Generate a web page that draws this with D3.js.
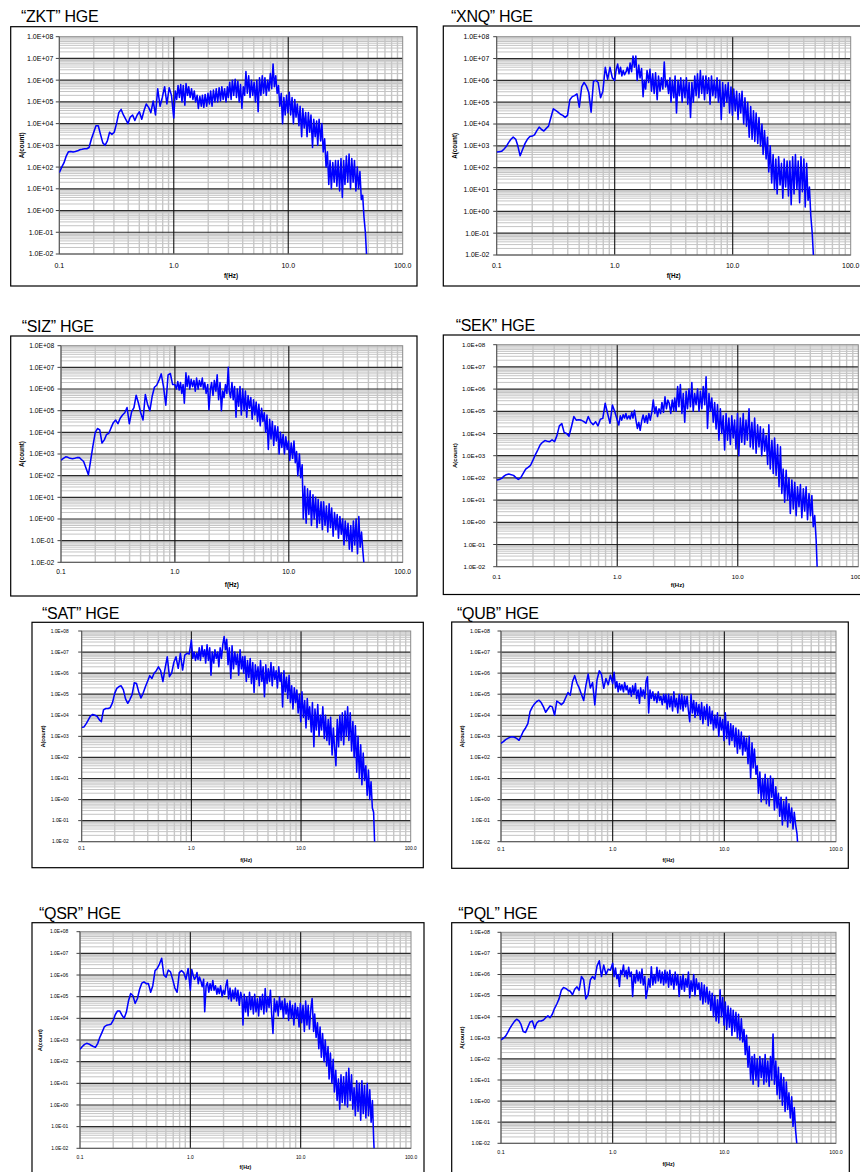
<!DOCTYPE html>
<html><head><meta charset="utf-8">
<script src="https://d3js.org/d3.v7.min.js"></script>
<style>body{margin:0;background:#fff}svg{display:block}</style>
</head><body>
<svg id="chart" width="860" height="1172"></svg>
<script>
const stations = ["ZKT","XNQ","SIZ","SEK","SAT","QUB","QSR","PQL"];
const xTickValues = [0.1, 1, 10, 100];
const xTickLabels = ["0.1","1.0","10.0","100.0"];
const yTickValues = [1e-2,1e-1,1e0,1e1,1e2,1e3,1e4,1e5,1e6,1e7,1e8];
const yTickLabels = ["1.0E-02","1.0E-01","1.0E+00","1.0E+01","1.0E+02","1.0E+03","1.0E+04","1.0E+05","1.0E+06","1.0E+07","1.0E+08"];

// frequency samples (Hz)
const freqLow = [0.1,0.105,0.11,0.115,0.12,0.126,0.132,0.138,0.145,0.151,
0.158,0.166,0.174,0.182,0.191,0.2,0.209,0.219,0.229,0.24,
0.251,0.263,0.275,0.288,0.302,0.316,0.331,0.347,0.363,0.38,
0.398,0.417,0.437,0.457,0.479,0.501,0.525,0.55,0.575,0.603,
0.631,0.661,0.692,0.724,0.759,0.794,0.832,0.871,0.912,0.955];
const freqMid = [1.0,1.03,1.06,1.09,1.12,1.15,1.18,1.21,1.25,1.28,
1.32,1.35,1.39,1.43,1.47,1.51,1.55,1.6,1.64,1.69,
1.74,1.78,1.83,1.88,1.94,1.99,2.05,2.1,2.16,2.22,
2.29,2.35,2.42,2.49,2.56,2.63,2.7,2.78,2.86,2.94];
const freqHigh = [3.0,3.08,3.17,3.25,3.34,3.44,3.53,3.63,3.73,3.83,
3.94,4.05,4.16,4.27,4.39,4.51,4.64,4.77,4.9,5.03,
5.17,5.32,5.46,5.61,5.77,5.93,6.09,6.26,6.43,6.61,
6.79,6.98,7.17,7.37,7.57,7.78,8.0,8.22,8.44,8.68,
8.92,9.16,9.41,9.67,9.94,10.2,10.5,10.8,11.1,11.4,
11.7,12.0,12.4,12.7,13.1,13.4,13.8,14.2,14.6,15.0,
15.4,15.8,16.3,16.7,17.2,17.7,18.1,18.6,19.2,19.7,
20.2,20.8,21.4,22.0,22.6,23.2,23.8,24.5,25.2,25.9,
26.6,27.3,28.1,28.9,29.7,30.5,31.3,32.2,33.1,34.0,
35.0,35.9,36.9,37.9,39.0,40.1,41.2,42.3,43.5,44.7,
45.9,47.2,48.5,49.8];

// amplitude A(count) per station, one value per frequency sample
const ampZKT = [5.5e1,1e2,1.6e2,3.2e2,5e2,5.2e2,5e2,5.2e2,5.6e2,6.3e2,
6.6e2,7e2,7e2,8e2,2e3,4e3,8e3,8e3,3.2e3,1.3e3,
1e3,1.6e3,4e3,3.2e3,4e3,1e4,3.2e4,4.5e4,2.5e4,1.6e4,
1e4,2e4,2.5e4,1.4e4,2.5e4,3.5e4,1.6e4,4e4,8e4,5.6e4,
3.2e4,1.1e5,2.5e4,4e5,6.3e4,1.6e5,5e5,8e4,4.5e5,2e5,
1.8e4,3.2e5,1.3e5,5.6e5,1.6e5,6.3e5,1e5,5.6e5,7e4,7e5,
2e5,5e5,1.6e5,4e5,1.3e5,3.2e5,1e5,2e5,5e4,1.8e5,
6.3e4,2e5,5.6e4,2.2e5,6.3e4,2.5e5,8e4,3.2e5,6.3e4,3.5e5,
1e5,4e5,1e5,4.5e5,1.1e5,5e5,1.3e5,4e5,1e5,5e5,
1.6e5,8e5,1.3e5,1e6,2e5,1.1e6,1.6e5,9e5,1e5,6.3e5,
5e4,5e5,2e5,2.5e6,2.5e5,1.6e6,1.6e5,1e6,2e5,8e5,
1e5,1e6,3.5e4,1.3e6,2e5,1.6e6,2.5e5,1.3e6,2e5,1e6,
3.2e5,2e6,4e5,5.6e6,5e5,1.6e6,2.5e5,5.6e5,6.3e4,2.5e5,
1e4,1.6e5,2.5e4,2e5,3.2e4,2.8e5,2.5e4,1.6e5,1e4,1.3e5,
2e4,8e4,8e3,6.3e4,2.5e3,5e4,6.3e3,3.2e4,2.5e3,3.2e4,
4e3,2.5e4,8e2,1.6e4,2.5e3,1.3e4,1e3,1.6e4,1.6e3,1e4,
5e2,2e3,1e2,5e2,1.6e1,2e2,1e1,1.6e2,2e1,2e2,
1.3e1,2e2,8,2.5e2,4,2e2,1.6e1,3.2e2,2e1,4e2,
1e1,2.5e2,2e1,2e2,8,1e2,1e1,6.3e1,3.2,5,
5e-1,1e-1,6.3e-3,1e-3];

const ampXNQ = [5.2e2,5.4e2,5.6e2,7e2,9e2,1.4e3,2e3,2.5e3,2e3,1e3,
3.5e2,7e2,1.3e3,2e3,2.7e3,2.8e3,3.2e3,5e3,7.2e3,5.6e3,
4.8e3,6.3e3,8e3,2e4,5e4,4.2e4,3.5e4,2.8e4,2.5e4,2e4,
2.5e4,1.3e5,1.8e5,2e5,2.4e5,5.9e4,5e5,8e5,5.6e5,2.8e5,
3.5e4,9e5,1e6,8e5,1.6e5,3.2e5,4e6,1.1e6,4e6,1.3e6,
1e6,3.2e6,5.6e6,2e6,4e6,1.6e6,2.8e6,1.8e6,2.5e6,4e6,
2e6,6.3e6,2.5e6,1.3e7,4e6,1.3e7,1e6,5e6,1.3e6,3.5e6,
1.8e5,1e6,4e5,2.8e6,8e5,3.2e6,3.2e5,2e6,2.5e5,2.2e6,
1.3e5,1.6e6,3.2e5,1.3e6,4e5,7e6,5e5,1e6,2.5e5,1.3e6,
1e5,1e6,1.6e5,1.6e6,3.2e4,1e6,2e5,1.3e6,1e5,1e6,
1.6e5,1.3e6,8e4,8e5,2e4,8e5,1e5,1.6e6,2e5,2e6,
1.6e5,2.8e6,2.5e5,1.6e6,1.3e5,1.6e6,2.5e5,1.3e6,8e4,1.6e6,
2e5,1e6,1.6e5,1.3e6,1e5,1e6,1.6e4,8e5,6.3e4,6.3e5,
1e5,8e5,3.2e4,5e5,2.5e4,4e5,4e4,3.2e5,1.6e4,2.5e5,
3.2e4,3.2e5,1e4,1.6e5,8e3,1e5,2.5e3,6.3e4,2e3,4e4,
1.6e3,3.2e4,1.3e3,2e4,1e3,1e4,4e2,5e3,2.5e2,2.5e3,
6.3e1,1e3,2e1,4e2,1e1,2.5e2,6.3,3.2e2,1.6e1,1.6e2,
4,2.5e2,1.3e1,2e2,5,2e2,2,3.2e2,6.3,4e2,
1e1,2e2,2.5,3.2e2,8,2.5e2,1.6,1.6e2,3.2,1.3e1,
6.3e-1,1e-1,6.3e-3,1e-3];

const ampSIZ = [5.2e2,6.3e2,7.4e2,7e2,6.3e2,6e2,6.3e2,6.8e2,6.8e2,5.6e2,
4.5e2,2.2e2,1.1e2,5e2,2.5e3,1e4,1.5e4,1.3e4,3.2e3,4.5e3,
8e3,9e3,1.6e4,2.8e4,3.7e4,2.5e4,4.5e4,6.3e4,8e4,1.4e5,
2.5e4,9e4,1.4e5,5.2e5,2.2e5,8e4,3.7e4,5.6e5,2e5,1e5,
4.5e5,1.2e6,1.5e6,2.5e6,5e6,1.3e6,1.8e5,4.5e6,5.2e6,1.6e6,
1.6e6,1e6,2.2e6,9e5,2e6,6.3e5,1.6e6,2.2e5,5.6e6,1.3e6,
4e6,1e6,2.8e6,1.3e6,2.5e6,8e5,3.2e6,1e6,2.5e6,1.3e6,
3.2e6,1e6,2e6,6.3e5,1.6e6,1.1e5,1e6,2e6,5e5,2.5e6,
8e5,4.5e6,3.2e5,2e6,1e5,8e5,4e5,1.6e6,6.3e5,1e7,
8e5,4e5,2e6,3.2e5,1.3e6,5e4,1e6,1.6e5,1.3e6,6.3e4,
1e6,1e5,8e5,5e4,5e5,1.3e5,4e5,4e4,3.2e5,6.3e4,
2.5e5,3.2e4,2e5,2e4,1.3e5,3.2e4,8e4,1e4,6.3e4,1.6e3,
4e4,5e3,3.2e4,2.5e3,2e4,4e3,1.8e4,1e3,1e4,2e3,
8e3,1e3,6.3e3,1.6e3,4e3,5e2,3.2e3,6.3e2,4e3,4e2,
1.3e3,1e2,1e3,8e1,3.2e2,1,3.2e1,6.3e-1,2.5e1,1.6,
2e1,5e-1,1.3e1,1,1e1,4e-1,8,6.3e-1,6.3,3.2e-1,
6.3,5e-1,4,2.5e-1,5,4e-1,3.2,1.6e-1,2,3.2e-1,
1.6,1.3e-1,1.3,2e-1,1,6.3e-2,8e-1,1e-1,6.3e-1,4e-2,
5e-1,3.2e-2,8e-1,6.3e-2,1,2.5e-2,1.3,5e-2,2.5e-1,3.2e-2,
6.3e-3,1e-3,1e-3,1e-3];

const ampSEK = [8e1,8.5e1,9.5e1,1.2e2,1.4e2,1.5e2,1.4e2,1.3e2,1e2,8.5e1,
1e2,1.6e2,2.5e2,3e2,3.7e2,6.3e2,1.1e3,1.8e3,3e3,4e3,
4.8e3,4.5e3,4.3e3,5.2e3,4.3e3,8e3,2.2e4,2.8e4,1.1e4,1e4,
7.6e3,2e4,5.8e4,4e4,4.2e4,4e4,3.5e4,2.9e4,5.8e4,3.2e4,
2.5e4,3.4e4,2.2e4,4.4e4,4.8e4,2.3e5,8e4,2.9e4,1.9e5,9.5e4,
4e4,2.4e4,6.3e4,4e4,7e4,5e4,8e4,4.5e4,6.3e4,4.5e4,
9e4,5e4,1.1e5,4e4,1.7e4,3.2e4,1.4e4,4e4,6.8e4,3.2e4,
6.3e4,2.9e4,8e4,4e4,1e5,3.2e5,8e4,1.6e5,5.8e4,1.3e5,
8e4,2.5e5,9e4,4.5e5,1.3e5,3.2e5,2.3e5,8e4,3.2e5,1.1e5,
4e5,1e5,1.3e6,1.6e5,1.6e6,8e4,6.3e5,3.2e4,8e5,1.3e5,
1e6,1.6e5,2e6,1e5,6.3e5,2e5,1e6,1e5,8e5,1.3e5,
1.3e6,2e5,3.6e6,1.7e4,6.3e5,1e5,4e5,3.2e4,2.5e5,1.6e4,
2e5,5e3,1.3e5,1e4,6.3e4,1.8e3,8e4,5e3,5e4,3.2e3,
6.3e4,6.3e3,4e4,2e3,8e4,1e3,5e4,4e3,8e4,3.2e3,
4e4,5e3,1.3e5,2.5e3,3.2e4,2e3,5e4,1.3e3,2.5e4,2.5e3,
2e4,1e3,1.6e4,1.6e3,8e3,4e2,2.5e4,2.5e2,5e3,1.6e2,
6.3e3,1.3e2,3.2e3,4e1,2.5e3,2e1,2.5e2,8,2.2e2,1e1,
1e2,2.5,8e1,4,6.3e1,2,4e1,5,5e1,1.6,
3.2e1,3.2,4e1,1.3,2e1,2,1.6e1,6.3e-1,2,1.6e-1,
3.2e-3,1e-3,1e-3,1e-3];

const ampSAT = [2.7e3,2.8e3,4e3,6e3,9e3,1.1e4,1e4,9e3,6e3,5e3,
1.8e4,2.1e4,2.1e4,2.3e4,4e4,1.1e5,1.9e5,2.3e5,2.5e5,1.6e5,
6e4,3.7e4,5.6e4,9.5e4,3.5e5,3.2e5,1.3e5,6.6e4,1.1e5,2.2e5,
4e5,7.6e5,5.6e5,9.8e5,1.3e6,2e6,1.3e6,4e5,1.6e6,6e6,
6.8e5,1e6,3.2e6,6e6,1.7e6,8.7e6,1.4e6,7.2e6,8.7e6,8e6,
3.7e7,5e6,1e7,4e6,9e6,4.5e6,1.6e7,4e6,2e7,6e6,
1.3e7,3e6,2.2e7,4e6,1.6e7,8e5,1e7,3e6,1.3e7,5e6,
1e7,2e6,1.6e7,5e6,2.5e7,5.4e7,1.3e7,4e7,2.5e6,1.6e7,
5.6e5,2e7,1.6e6,1e7,2.5e6,8e6,8e5,1.3e7,1.6e6,6e6,
1e6,6.3e6,4e5,4e6,6.3e5,5e6,3.2e5,3.2e6,1.2e5,2.5e6,
5e5,2e6,2.5e5,4e6,4e5,2e6,7.6e4,2.5e6,3.2e5,1.6e6,
4e5,3.2e6,2.5e5,2e6,5e5,1.3e6,2e5,2e6,4e5,1e6,
2.5e4,1.3e6,1.3e5,6.3e5,6.3e4,8e5,4e4,2.5e5,2e4,2e5,
4e4,1.6e5,1.3e4,1e5,5e3,1.3e5,8e3,5e4,2.5e3,6.3e4,
6.3e3,2.5e4,1.6e3,4e4,3.2e2,2e4,2e3,3.2e4,1e3,1e4,
2e3,2.5e4,8e2,1e4,6.3e2,6.3e3,4e2,8e3,1.3e2,2.5e3,
3.2e2,4e1,6.3e3,3.2e2,1e4,6.3e2,1.3e4,4e2,1.6e4,1e3,
2.5e4,6.3e2,1.3e4,2e2,5e3,1e2,3.2e3,2e1,1e3,1e1,
4e2,5,1.6e2,8,4e1,1.6,2.5e1,1,7,4e-1,
2.5e-1,3.2e-3,1e-3,1e-3];

const ampQUB = [4.7e2,5.6e2,7e2,8e2,9e2,9.5e2,9e2,8e2,6.5e2,1e3,
1.7e3,2.5e3,4e3,1.5e4,2.5e4,3.5e4,4.5e4,5.2e4,4e4,2.5e4,
1.4e4,2e4,2.8e4,2.5e4,1e4,4.7e4,4e4,3.2e4,4e4,7e4,
1.2e5,9e4,4e5,7.6e5,3.3e5,2e5,1e5,5e4,2.5e5,9e5,
2e5,3.6e5,3.1e4,4.7e5,1.3e6,8.7e5,1.9e5,5.6e5,2.8e5,8e5,
3.2e5,1.1e6,2e5,4e5,1.3e5,3.2e5,1.6e5,2.8e5,1.3e5,3.6e5,
1.6e5,2.5e5,1e5,2e5,8e4,2.5e5,1e5,3.2e5,6.3e4,1.6e5,
3.7e4,2e5,8e4,1.6e5,6.3e4,4e5,6.8e5,1.3e4,1.6e5,6.3e4,
1.3e5,5e4,1e5,4e4,1.3e5,5e4,8e4,3.2e4,1e5,4e4,
1e5,2e4,1e5,2.5e4,8e4,1.6e4,1.3e5,2.5e4,6.3e4,1.3e4,
1e5,2e4,1e5,1.6e4,8e4,2.5e4,8e4,1.6e4,5e3,1e5,
1.3e4,5e4,8e3,4e4,1e4,3.2e4,6.3e3,4e4,4e3,2.5e4,
6.3e3,3.2e4,3.2e3,2.5e4,4e3,1.6e4,2e3,1e4,2.5e3,1.3e4,
1e3,8e3,2e3,6.3e3,6.3e2,1.3e4,8e2,5e3,4e2,4e3,
6.3e2,3.2e3,3.2e2,2.5e3,1.6e2,2e3,2.5e2,1.6e3,1.3e2,1e3,
2e2,8e2,5e1,1e3,1e1,5e2,3.2e1,2.5e2,1.6e1,4e1,
2,2e1,8e-1,1e1,1,1.6e1,6.3e-1,1e1,5e-1,1.3e1,
1.3,1e1,3.2e-1,4,4e-1,2,1.6e-1,1.3,6.3e-2,8e-1,
1e-1,1.3,5e-2,6.3e-1,8e-2,4e-1,4e-2,2.5e-1,6.3e-2,2.5e-2,
3.2e-3,1e-3,1e-3,1e-3];

const ampQSR = [3.7e2,5e2,6.3e2,7e2,6.6e2,5.7e2,5e2,4.6e2,7e2,1.3e3,
2.2e3,4e3,4.8e3,5e3,5.4e3,8e3,1.5e4,2.2e4,2.2e4,1.4e4,
1e4,1.9e4,6.3e4,1.4e5,1.1e5,4.9e4,8e4,2.2e5,4.2e5,4.8e5,
4e5,4e5,1.6e5,3.2e5,1.6e6,2e6,3.2e6,5.9e6,1e6,8e5,
1.7e6,1.4e6,6.3e5,2.5e5,1.6e5,1.3e6,1.6e6,1.3e6,6.3e5,2e6,
2e5,1.8e6,1e6,6.3e5,8e5,1.3e6,4e5,8e5,5e5,2.9e5,
6.3e5,2e4,3.2e5,4.5e5,1.6e5,4e5,2e5,5.6e5,2e5,3.2e5,
1.3e5,2.5e5,1.4e5,3.2e5,1e5,2e5,1.3e5,3.2e5,5.9e5,8e4,
2.5e5,6.3e4,2e5,8e4,2.5e5,6.3e4,2e5,4e4,1.6e5,8e4,
5e3,1.3e5,2e4,1e5,1.3e4,1.6e5,2.5e4,1e5,1.6e4,1.3e5,
2e4,8e4,1.3e4,1e5,2.5e4,1.3e5,1.6e4,2.4e5,2e4,1e5,
3.2e4,2e5,1.6e4,2e3,8e4,2e4,6.3e4,1.3e4,1e5,2.5e4,
6.3e4,1e4,8e4,1.6e4,5e4,8e3,6.3e4,1e4,4e4,5e3,
5e4,1e4,3.2e4,4e3,5e4,6.3e3,4e4,2.5e3,6.3e4,5e3,
4e4,3.2e3,3.2e4,8.3e4,2.5e3,1.6e4,1.3e3,6.3e3,4e2,4e3,
1.6e2,2e3,1e2,1e3,6.3e1,5e2,1.6e1,2.5e2,1e1,1.3e2,
4,4e1,1.6,1.6e1,6.3e-1,2.5e1,1.3,2e1,1,3.2e1,
8e-1,5e1,1.6,2.5e1,6.3e-1,6.3,3.2e-1,1.3e1,5e-1,1e1,
2e-1,1.3e1,4e-1,8,2.5e-1,1e1,3.2e-1,5,1.6e-1,1.6,
2.5e-2,1e-3,1e-3,1e-3];

const ampPQL = [8e2,9.5e2,1.2e3,1.8e3,2.8e3,4.2e3,6e3,7.6e3,6.3e3,4.3e3,
2e3,1.8e3,3.2e3,5.6e3,6.3e3,2.8e3,5e3,6.3e3,6.3e3,7e3,
9e3,1.1e4,9e3,1.3e4,2.5e4,4e4,7e4,1.8e5,2.4e5,2.2e5,
1.8e5,1.6e5,1.1e5,2e5,2.6e5,1.8e5,8e5,5.6e5,7e4,1.1e5,
5.6e5,8e5,6e5,2.5e6,4.5e6,8e5,2.8e6,1e6,1.8e6,1.6e6,
3.4e6,8e5,2e6,6.3e5,1e6,2.7e5,1.6e6,1e6,2.8e6,8e5,
1.6e6,6.3e5,2.2e6,8e5,1.3e6,9e4,1e6,4e5,1.6e6,5e5,
1.3e6,4e5,1.8e6,3.2e5,8e5,7.4e4,1.9e5,6.3e5,2.5e5,2.3e6,
3.2e5,1e6,4e5,2.2e6,5e5,1.6e6,4e5,1.3e6,3.2e5,1.6e6,
4e5,1.3e6,2.5e5,1.6e6,3.2e5,1e6,2e5,1.3e6,3.2e5,1e6,
9e4,8e5,2e5,1e6,1.6e5,6.3e5,2.5e5,1.3e6,8e4,5e5,
1.6e5,1e6,1e5,6.3e5,2e5,4e5,6.3e4,4e5,4e4,3.2e5,
5e4,2.5e5,4e4,1.6e5,2e4,1.3e5,1e4,1e5,6.3e3,6.3e4,
5e3,1.9e5,1e4,8e4,4e3,5e4,2.5e3,3.2e4,3.2e3,2.5e4,
1.3e3,2e4,2e3,1.6e4,1e3,1.3e4,8e2,8e3,6.3e2,2.5e3,
1.6e2,1.3e3,4e1,4e2,1e1,1.3e2,6.3,1.6e2,1e1,1e2,
5,1.3e2,1.3e1,1e2,6.3,1.6e2,8,8e1,5,1.3e2,
1e1,1.5e3,6.3,8e1,2,4e1,1.3,2e1,6.3e-1,1.3e1,
3.2e-1,8,4e-1,2.5,1.6e-1,1.6,6.3e-2,5e-1,4e-2,8e-3,
1e-3,1e-3,1e-3,1e-3];

const amplitudes = [ampZKT, ampXNQ, ampSIZ, ampSEK, ampSAT, ampQUB, ampQSR, ampPQL];
const freqHz = freqLow.concat(freqMid, freqHigh);

// panel geometry (pixels)
const layout = [
  {box:[10.7,26.7,417,286],   plot:[59.3,36.7,402.7,254],  title:[21,22],     fs:7.0, ax:6.3, yGap:6,   xDy:11.7, xtDy:22,   ytDx:37.6},
  {box:[443.3,26,872,286],    plot:[496.7,36.7,850.7,255], title:[451,22],    fs:6.9, ax:6.3, yGap:7.4, xDy:10.7, xtDy:21,   ytDx:41.7},
  {box:[10.7,336,417,596],    plot:[61,345.7,402.7,562.3], title:[21.7,332],  fs:6.7, ax:6.3, yGap:6.7, xDy:9.4,  xtDy:22.7, ytDx:39.3},
  {box:[443.3,335,872,594.5], plot:[496.7,344.7,858.3,566.7], title:[455.7,331], fs:6.2, ax:6, yGap:11.5, xDy:10, xtDy:18.3, ytDx:41.7},
  {box:[32,622.3,423.3,867.7], plot:[81.7,631,410.7,841.7], title:[42,618.5], fs:4.8, ax:5.3, yGap:13,  xDy:6.2,  xtDy:18.3, ytDx:38.7},
  {box:[451.7,622,848.3,868.3],plot:[501,631,836,841.7],   title:[457,618.5], fs:5.3, ax:5.3, yGap:11,  xDy:7.3,  xtDy:18.3, ytDx:39.3},
  {box:[32,922.7,424,1185],   plot:[80,931.7,411,1148.3],  title:[39,919],    fs:4.9, ax:5.3, yGap:11.7,xDy:9.4,  xtDy:18.4, ytDx:40},
  {box:[451.7,922.7,849.3,1185],plot:[501,932.3,836,1143.3],title:[458.3,919], fs:5.3, ax:5.5, yGap:11, xDy:9,    xtDy:20.7, ytDx:39.3}
];

const svg = d3.select("#chart");
const FONT = "'Liberation Sans', Arial, Helvetica, sans-serif";

stations.forEach((name, i) => {
  const L = layout[i];
  const g = svg.append("g");
  const [px0, py0, px1, py1] = L.plot;

  g.append("rect").attr("x", L.box[0]).attr("y", L.box[1])
    .attr("width", L.box[2] - L.box[0]).attr("height", L.box[3] - L.box[1])
    .attr("fill", "#fff").attr("stroke", "#000").attr("stroke-width", 1.2);

  g.append("text").attr("x", L.title[0]).attr("y", L.title[1])
    .attr("font-family", FONT).attr("font-size", 16).attr("fill", "#000")
    .attr("letter-spacing", "-0.3")
    .text("\u201C" + name + "\u201D HGE");

  const x = d3.scaleLog().domain([0.1, 100]).range([px0, px1]);
  const y = d3.scaleLog().domain([1e-2, 1e8]).range([py1, py0]);

  g.append("rect").attr("x", px0).attr("y", py0).attr("width", px1 - px0).attr("height", py1 - py0).attr("fill", "#fff");

  const minorY = [], minorX = [];
  for (let d = -2; d < 8; d++) for (let k = 2; k <= 9; k++) minorY.push(k * Math.pow(10, d));
  for (let d = -1; d < 2; d++) for (let k = 2; k <= 9; k++) minorX.push(k * Math.pow(10, d));

  g.selectAll(null).data(minorY).enter().append("line")
    .attr("x1", px0).attr("x2", px1).attr("y1", d => y(d)).attr("y2", d => y(d))
    .attr("stroke", "#c4c4c4").attr("stroke-width", 1);
  g.selectAll(null).data(minorX).enter().append("line")
    .attr("x1", d => x(d)).attr("x2", d => x(d)).attr("y1", py0).attr("y2", py1)
    .attr("stroke", "#c6c6c6").attr("stroke-width", 1.4);
  g.selectAll(null).data(yTickValues.slice(1, -1)).enter().append("line")
    .attr("x1", px0).attr("x2", px1).attr("y1", d => y(d)).attr("y2", d => y(d))
    .attr("stroke", "#2a2a2a").attr("stroke-width", 1.2);
  g.selectAll(null).data(xTickValues.slice(1, -1)).enter().append("line")
    .attr("x1", d => x(d)).attr("x2", d => x(d)).attr("y1", py0).attr("y2", py1)
    .attr("stroke", "#111").attr("stroke-width", 1.1);
  // plot border
  g.append("rect").attr("x", px0).attr("y", py0).attr("width", px1 - px0).attr("height", py1 - py0)
    .attr("fill", "none").attr("stroke", "#8a8a8a").attr("stroke-width", 1);
  g.append("line").attr("x1", px0).attr("x2", px0).attr("y1", py0).attr("y2", py1).attr("stroke", "#555").attr("stroke-width", 1);
  g.append("line").attr("x1", px0).attr("x2", px1).attr("y1", py1).attr("y2", py1).attr("stroke", "#555").attr("stroke-width", 1);

  // data line
  const clipId = "clip" + i;
  svg.append("clipPath").attr("id", clipId).append("rect")
    .attr("x", px0).attr("y", py0).attr("width", px1 - px0).attr("height", py1 - py0);
  const pts = freqHz.map((f, j) => [f, amplitudes[i][j]]);
  const line = d3.line().x(d => x(d[0])).y(d => y(d[1]));
  g.append("path").datum(pts).attr("d", line).attr("clip-path", "url(#" + clipId + ")")
    .attr("fill", "none").attr("stroke", "#0000ff").attr("stroke-width", 1.55)
    .attr("stroke-linejoin", "round");

  // y ticks + labels
  g.selectAll(null).data(yTickValues).enter().append("line")
    .attr("x1", px0 - 3.5).attr("x2", px0).attr("y1", d => y(d)).attr("y2", d => y(d))
    .attr("stroke", "#444").attr("stroke-width", 1);
  g.selectAll(null).data(yTickValues).enter().append("text")
    .attr("x", px0 - L.yGap).attr("y", d => y(d)).attr("dy", "0.35em")
    .attr("text-anchor", "end").attr("font-family", FONT).attr("font-size", L.fs).attr("fill", "#000")
    .text((d, k) => yTickLabels[k]);
  // x labels
  g.selectAll(null).data(xTickValues).enter().append("text")
    .attr("x", d => x(d)).attr("y", py1 + L.xDy).attr("dy", "0.35em")
    .attr("text-anchor", "middle").attr("font-family", FONT).attr("font-size", L.fs).attr("fill", "#000")
    .text((d, k) => xTickLabels[k]);
  // axis titles
  g.append("text").attr("x", (px0 + px1) / 2).attr("y", py1 + L.xtDy).attr("dy", "0.35em")
    .attr("text-anchor", "middle").attr("font-family", FONT).attr("font-weight", "bold")
    .attr("font-size", L.ax).text("f(Hz)");
  const cy = (py0 + py1) / 2, cx = px0 - L.ytDx;
  g.append("text").attr("transform", `translate(${cx},${cy}) rotate(-90)`).attr("dy", "0.35em")
    .attr("text-anchor", "middle").attr("font-family", FONT).attr("font-weight", "bold")
    .attr("font-size", L.ax).text("A(count)");
});
</script>
</body></html>
